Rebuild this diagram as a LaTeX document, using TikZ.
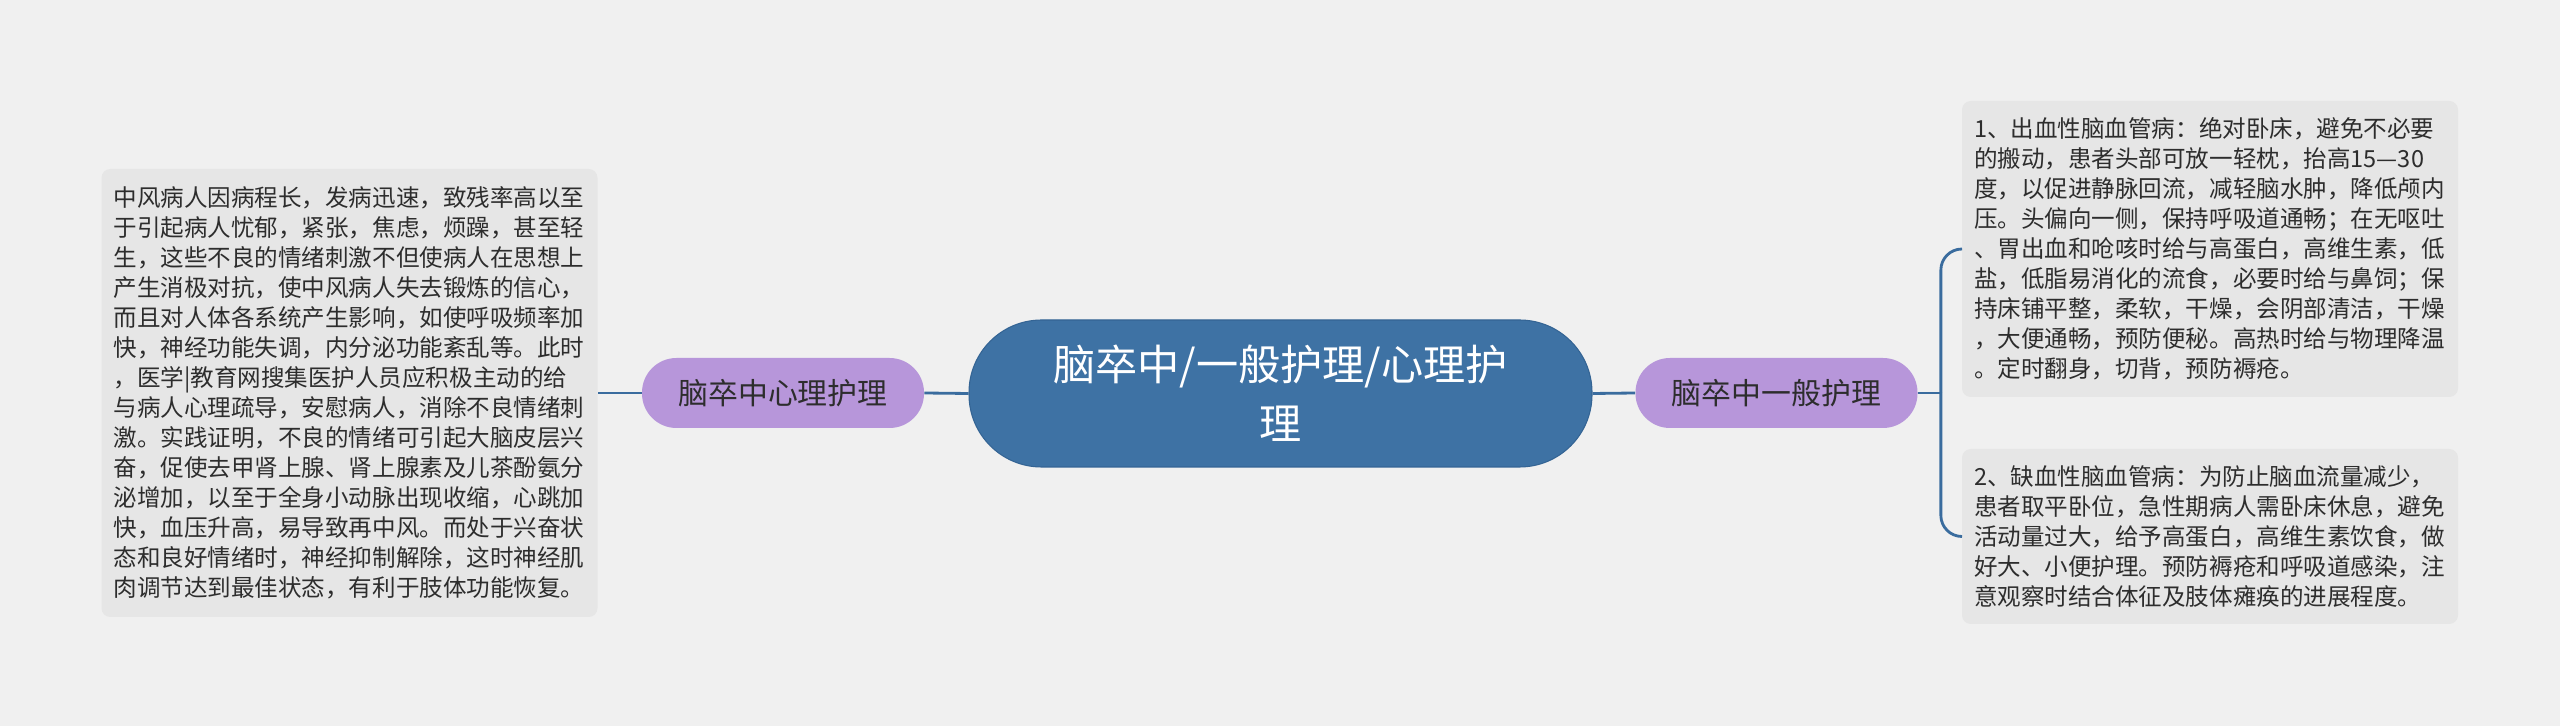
\documentclass[tikz,border=0pt]{standalone}
\usepackage{fontspec}
\setmainfont{Noto Sans CJK SC}
\usepackage{xcolor}
\usepackage{tikz}
\usetikzlibrary{positioning, calc}
\definecolor{mybg}{RGB}{240,240,240}
\definecolor{mybox}{RGB}{230,230,230}
\definecolor{mytxt}{RGB}{45,45,45}
\definecolor{myroot}{RGB}{62,114,164}
\definecolor{myrootedge}{RGB}{52,100,148}
\definecolor{mylav}{RGB}{183,150,218}
\definecolor{mylink}{RGB}{58,108,158}
\tikzset{
  rootnode/.style={rectangle, fill=myroot, draw=myrootedge, line width=0.6pt,
    minimum width=12.46cm, minimum height=2.94cm, rounded corners=1.45cm,
    text=white, align=center, font=\fontsize{24}{33.6}\selectfont},
  topicnode/.style={rectangle, fill=mylav, minimum width=5.64cm,
    minimum height=1.4cm, rounded corners=0.69cm, text=mytxt,
    font=\fontsize{17}{20}\selectfont},
  notebox/.style={rectangle, fill=mybox, rounded corners=5pt,
    text width=9.44cm, inner xsep=0.24cm, inner ysep=0pt, align=left,
    text=mytxt, font=\fontsize{13.4}{17.07}\selectfont},
  link/.style={line width=1.6pt, color=mylink}
}

\begin{document}
\begin{tikzpicture}
  \fill[mybg] (0,0) rectangle (51.2,14.52);
  \useasboundingbox (0,0) rectangle (51.2,14.52);

  % --- Root ---
  \node[rootnode] (root) at (25.61,6.65) {脑卒中/一般护理/心理护\\理};

  % --- Left branch ---
  \node[topicnode] (psy) at (15.66,6.66) {脑卒中心理护理};
  \node[notebox, minimum height=8.96cm] (psytext) at (6.99,6.66) {%
    中风病人因病程长，发病迅速，致残率高以至\\
    于引起病人忧郁，紧张，焦虑，烦躁，甚至轻\\
    生，这些不良的情绪刺激不但使病人在思想上\\
    产生消极对抗，使中风病人失去锻炼的信心，\\
    而且对人体各系统产生影响，如使呼吸频率加\\
    快，神经功能失调，内分泌功能紊乱等。此时\\
    ，医学|教育网搜集医护人员应积极主动的给\\
    与病人心理疏导，安慰病人，消除不良情绪刺\\
    激。实践证明，不良的情绪可引起大脑皮层兴\\
    奋，促使去甲肾上腺、肾上腺素及儿茶酚氨分\\
    泌增加，以至于全身小动脉出现收缩，心跳加\\
    快，血压升高，易导致再中风。而处于兴奋状\\
    态和良好情绪时，神经抑制解除，这时神经肌\\
    肉调节达到最佳状态，有利于肢体功能恢复。};

  % --- Right branch ---
  \node[topicnode] (gen) at (35.53,6.66) {脑卒中一般护理};
  \node[notebox, minimum height=5.92cm] (bleed) at (44.2,9.54) {%
    1、出血性脑血管病：绝对卧床，避免不必要\\
    的搬动，患者头部可放一轻枕，抬高15—30\\
    度，以促进静脉回流，减轻脑水肿，降低颅内\\
    压。头偏向一侧，保持呼吸道通畅；在无呕吐\\
    、胃出血和呛咳时给与高蛋白，高维生素，低\\
    盐，低脂易消化的流食，必要时给与鼻饲；保\\
    持床铺平整，柔软，干燥，会阴部清洁，干燥\\
    ，大便通畅，预防便秘。高热时给与物理降温\\
    。定时翻身，切背，预防褥疮。};
  \node[notebox, minimum height=3.5cm] (isch) at (44.2,3.79) {%
    2、缺血性脑血管病：为防止脑血流量减少，\\
    患者取平卧位，急性期病人需卧床休息，避免\\
    活动量过大，给予高蛋白，高维生素饮食，做\\
    好大、小便护理。预防褥疮和呼吸道感染，注\\
    意观察时结合体征及肢体瘫痪的进展程度。};
  \coordinate (fork) at ($(gen.east)+(0.46,0)$);

  % connectors
  \draw[link] (root.west) -- (psy.east);
  \draw[link] (psy.west) -- (psytext.east);
  \draw[link] (root.east) -- (gen.west);
  \draw[link] (gen.east) -- (fork);
  \draw[link, rounded corners=12pt] (fork) |- (bleed.west);
  \draw[link, rounded corners=12pt] (fork) |- (isch.west);
\end{tikzpicture}
\end{document}
